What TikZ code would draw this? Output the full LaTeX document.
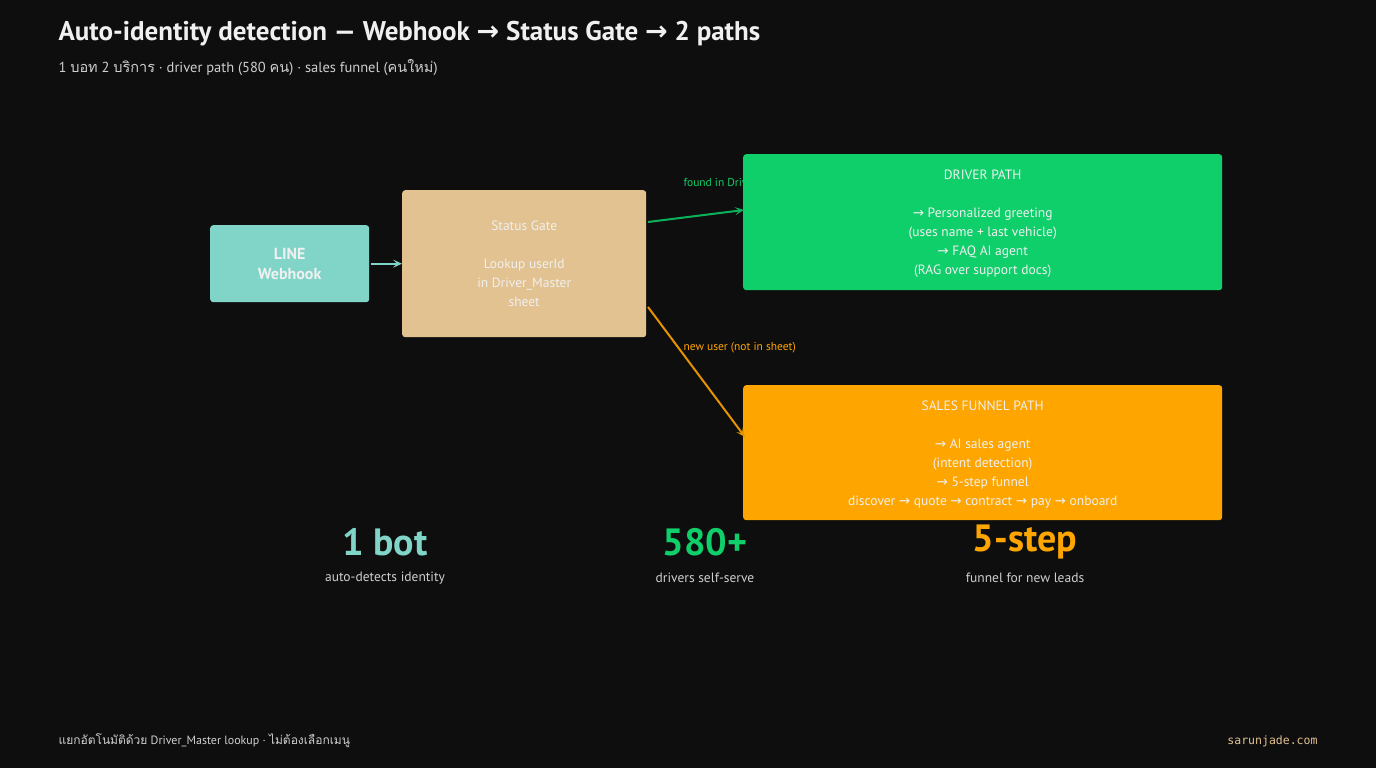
\documentclass[tikz,border=0pt]{standalone}
\usepackage{fontspec}
\setmainfont{PT Sans}
\setmonofont{DejaVu Sans Mono}
\newfontfamily\thaifont[Script=Thai]{Loma}
\newfontfamily\symf{DejaVu Sans}
\newcommand{\ra}{{\symf →}}
\newcommand{\thx}[1]{{\thaifont #1}}
\usetikzlibrary{arrows.meta}
\definecolor{bg}{HTML}{0E0E0E}
\definecolor{teal}{HTML}{80D5C8}
\definecolor{tan}{HTML}{E2C290}
\definecolor{grn}{HTML}{0ECF6A}
\definecolor{org}{HTML}{FFA500}
\definecolor{txt}{HTML}{F0F0F0}
\definecolor{sub}{HTML}{CFCFCF}
\begin{document}
\begin{tikzpicture}[x=1pt,y=-1pt,
  box/.style={rounded corners=3pt,inner sep=0pt,anchor=north west},
  btxt/.style={text=txt,font=\fontsize{13.5}{19}\selectfont,align=center},
  lbl/.style={font=\fontsize{11.5}{13}\selectfont,anchor=west},
  big/.style={font=\fontsize{38}{44}\selectfont\bfseries},
  statcap/.style={text=sub,font=\fontsize{13.5}{15}\selectfont},
  arr/.style={-{Stealth[length=9pt,width=8pt,inset=4pt]},line width=2pt}]
\fill[bg] (0,0) rectangle (1376,768);
\useasboundingbox (0,0) rectangle (1376,768);
\node[anchor=west,text=txt,font=\fontsize{27}{30}\selectfont\bfseries] (title) at (55,34) {Auto-identity detection — Webhook \ra\ Status Gate \ra\ 2 paths};
\node[anchor=west,text=sub,font=\fontsize{14.5}{16}\selectfont] (subt) at (55,68) {1 \thx{บอท} 2 \thx{บริการ} · driver path (580 \thx{คน}) · sales funnel (\thx{คนใหม่})};
% labels (behind boxes)
\node[lbl,text=grn] (lf) at (680,184) {found in Driver\_Master};
\node[lbl,text=org] (ln) at (680,348) {new user (not in sheet)};
% boxes
\node[box,fill=teal,minimum width=159pt,minimum height=77pt] (line) at (210,225) {};
\node[text=txt,font=\fontsize{16}{20}\selectfont\bfseries,align=center] at (line.center) {LINE\\Webhook};
\node[box,fill=tan,minimum width=244pt,minimum height=147pt] (gate) at (402,190) {};
\node[btxt] at (gate.center) {Status Gate\\[19pt]Lookup userId\\in Driver\_Master\\sheet};
\node[box,fill=grn,minimum width=479pt,minimum height=136pt] (drv) at (743,154) {};
\node[btxt,anchor=north] at ([yshift=-12pt]drv.north) {DRIVER PATH\\[19pt]\ra\ Personalized greeting\\(uses name + last vehicle)\\\ra\ FAQ AI agent\\(RAG over support docs)};
\node[box,fill=org,minimum width=479pt,minimum height=135pt] (sal) at (743,385) {};
\node[btxt,anchor=north] at ([yshift=-12pt]sal.north) {SALES FUNNEL PATH\\[19pt]\ra\ AI sales agent\\(intent detection)\\\ra\ 5-step funnel\\discover \ra\ quote \ra\ contract \ra\ pay \ra\ onboard};
% connectors
\coordinate (g1) at (648,222); \coordinate (g2) at (648,307);
\draw[arr,teal] ([xshift=2pt]line.east) -- (gate.west);
\draw[arr,grn!85!black] (g1) -- (744,210);
\draw[arr,org!90!black] (g2) -- (745,437);
% stats
\node[big,text=teal] (s1) at (385,542) {1 bot};
\node[statcap] (c1) at (385,578) {auto-detects identity};
\node[big,text=grn] (s2) at (705,542) {580+};
\node[statcap] (c2) at (705,578) {drivers self-serve};
\node[big,text=org] (s3) at (1025,542) {5-step};
\node[statcap] (c3) at (1025,578) {funnel for new leads};
% footer
\node[anchor=west,text=sub,font=\fontsize{12}{14}\selectfont] (ft) at (55,741) {\thx{แยกอัตโนมัติด้วย} Driver\_Master lookup · \thx{ไม่ต้องเลือกเมนู}};
\node[anchor=east,text=tan,font=\ttfamily\fontsize{11.5}{13}\selectfont] (site) at (1321,741) {sarunjade.com};
\end{tikzpicture}
\end{document}
